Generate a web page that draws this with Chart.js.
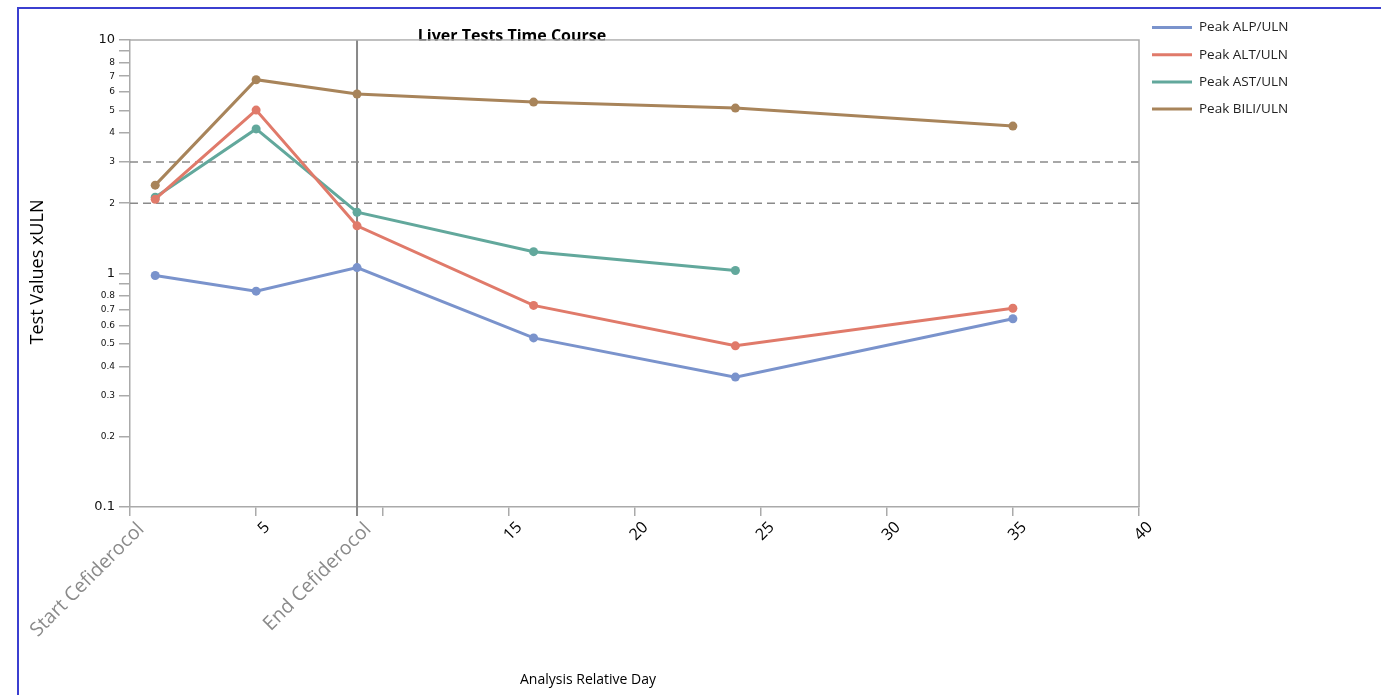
<!DOCTYPE html>
<html>
<head>
<meta charset="utf-8">
<script src="https://cdn.jsdelivr.net/npm/chart.js@4"></script>
<style>
html,body{margin:0;padding:0;background:#fff;overflow:hidden;}
#wrap{position:absolute;left:0;top:0;width:1381px;height:695px;}
#frame{position:absolute;left:17px;top:7px;width:1400px;height:720px;border:2px solid #3b3fd0;box-sizing:border-box;pointer-events:none;}
</style>
</head>
<body>
<div id="wrap"><canvas id="c" width="1381" height="695"></canvas></div>
<div id="frame"></div>
<script>
// ---- data ----
const days = [1, 5, 9, 16, 24, 35];
const alp  = [0.98, 0.84, 1.06, 0.53, 0.36, 0.64];
const alt  = [2.08, 5.01, 1.60, 0.73, 0.49, 0.71];
const ast  = [2.12, 4.16, 1.83, 1.24, 1.03];
const bili = [2.39, 6.76, 5.87, 5.42, 5.11, 4.28];
const seriesNames = ['Peak ALP/ULN', 'Peak ALT/ULN', 'Peak AST/ULN', 'Peak BILI/ULN'];
const xTicks = [0, 5, 9, 10, 15, 20, 25, 30, 35, 40];
const xTickLabels = {0: 'Start Cefiderocol', 9: 'End Cefiderocol', 10: ''};
const yTicks = [0.1, 0.2, 0.3, 0.4, 0.5, 0.6, 0.7, 0.8, 0.9, 1, 2, 3, 4, 5, 6, 7, 8, 9, 10];
const yUnlabeled = [0.9, 9];
const refLines = [2, 3];
const treatmentEndDay = 9;

const colors = ['#7a93cc', '#e07a6a', '#62a89c', '#a8845a'];
const values = [alp, alt, ast, bili];

const datasets = values.map((vals, i) => ({
  label: seriesNames[i],
  data: vals.map((v, j) => ({x: days[j], y: v})),
  borderColor: colors[i],
  backgroundColor: colors[i],
  borderWidth: 3,
  pointRadius: 4.5,
  pointHoverRadius: 4.5,
  pointBorderWidth: 0,
  tension: 0
}));

const overlay = {
  id: 'overlay',
  beforeDatasetsDraw(chart) {
    const {ctx, chartArea: a, scales: {x, y}} = chart;
    ctx.save();
    // dashed ref lines
    ctx.strokeStyle = '#8a8a8a';
    ctx.lineWidth = 1.5;
    ctx.setLineDash([8, 5]);
    refLines.forEach(v => {
      const py = y.getPixelForValue(v);
      ctx.beginPath(); ctx.moveTo(a.left, py); ctx.lineTo(a.right, py); ctx.stroke();
    });
    ctx.setLineDash([]);
    // treatment end line
    const px = x.getPixelForValue(treatmentEndDay);
    ctx.strokeStyle = '#888888';
    ctx.lineWidth = 2;
    ctx.beginPath(); ctx.moveTo(px, a.top); ctx.lineTo(px, a.bottom + 9); ctx.stroke();
    ctx.restore();
  },
  afterDraw(chart) {
    const {ctx, chartArea: a} = chart;
    ctx.save();
    // title
    ctx.fillStyle = '#000';
    ctx.font = 'bold 16px "Open Sans", "DejaVu Sans", sans-serif';
    ctx.textAlign = 'center';
    ctx.textBaseline = 'middle';
    ctx.fillText('Liver Tests Time Course', 512, 36);
    // box (drawn over title bottom like the reference)
    ctx.strokeStyle = '#aaaaaa';
    ctx.lineWidth = 1.5;
    ctx.beginPath();
    ctx.moveTo(a.left, a.top); ctx.lineTo(a.right, a.top); ctx.lineTo(a.right, a.bottom);
    ctx.stroke();
    ctx.fillStyle = '#fff';
    ctx.fillRect(400, a.top + 0.8, 230, 3);
    // x axis title
    ctx.fillStyle = '#000';
    ctx.font = '14px "Open Sans", sans-serif';
    ctx.fillText('Analysis Relative Day', 588, 680);
    // y axis title
    ctx.save();
    ctx.translate(38, 272);
    ctx.rotate(-Math.PI / 2);
    ctx.font = '18px "Open Sans", sans-serif';
    ctx.fillText('Test Values xULN', 0, 0);
    ctx.restore();
    // legend
    ctx.textAlign = 'left';
    ctx.font = '13.5px "Open Sans", sans-serif';
    seriesNames.forEach((n, i) => {
      const ly = 27.5 + i * 27.2;
      ctx.strokeStyle = colors[i];
      ctx.lineWidth = 3;
      ctx.beginPath(); ctx.moveTo(1152, ly); ctx.lineTo(1192, ly); ctx.stroke();
      ctx.fillStyle = '#222';
      ctx.fillText(n, 1199, ly);
    });
    ctx.restore();
  }
};

new Chart(document.getElementById('c'), {
  type: 'line',
  data: {datasets},
  options: {
    responsive: false,
    animation: false,
    events: [],
    layout: {padding: {left: 0, right: 242, top: 40, bottom: 0}},
    plugins: {legend: {display: false}, title: {display: false}, tooltip: {enabled: false}},
    scales: {
      x: {
        type: 'linear',
        min: 0, max: 40,
        afterBuildTicks(s) { s.ticks = xTicks.map(v => ({value: v})); },
        afterFit(s) { s.height = 188; },
        grid: {drawOnChartArea: false, drawTicks: true, tickLength: 9, color: '#aaaaaa', lineWidth: 1.5},
        border: {display: true, color: '#aaaaaa', width: 1.5},
        ticks: {
          autoSkip: false,
          maxRotation: 45, minRotation: 45,
          padding: 2,
          labelOffset: 11,
          callback(v) { return (v in xTickLabels) ? xTickLabels[v] : String(v); },
          color(ctx) { return (ctx.tick && ctx.tick.value in xTickLabels) ? '#8a8a8a' : '#000'; },
          font(ctx) {
            const lab = ctx.tick && ctx.tick.value in xTickLabels;
            return {family: '"Open Sans", sans-serif', size: lab ? 19.5 : 16};
          }
        }
      },
      y: {
        type: 'logarithmic',
        min: 0.1, max: 10,
        afterBuildTicks(s) { s.ticks = yTicks.map(v => ({value: v, major: false})); },
        afterFit(s) { s.width = 130; },
        grid: {drawOnChartArea: false, drawTicks: true, tickLength: 11, color: '#aaaaaa', lineWidth: 1.5},
        border: {display: true, color: '#aaaaaa', width: 1.5},
        ticks: {
          autoSkip: false,
          padding: 4,
          color: '#111',
          callback(v) { return yUnlabeled.includes(v) ? '' : String(v); },
          font(ctx) {
            const v = ctx.tick && ctx.tick.value;
            const big = v === 0.1 || v === 1 || v === 10;
            return {family: '"DejaVu Sans", sans-serif', size: big ? 13 : 9};
          }
        }
      }
    }
  },
  plugins: [overlay]
});
</script>
</body>
</html>
